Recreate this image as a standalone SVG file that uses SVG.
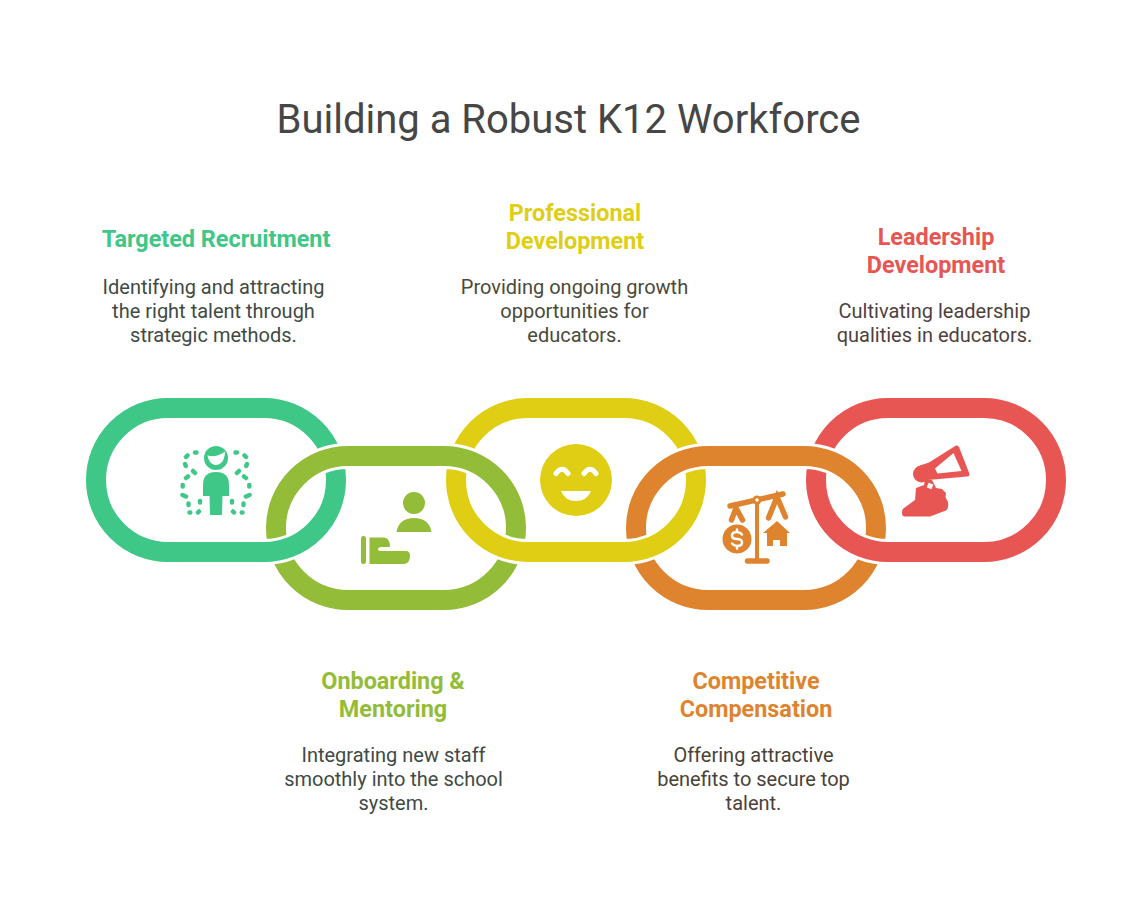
<svg xmlns="http://www.w3.org/2000/svg" width="1136" height="912" viewBox="0 0 1136 912">
<style>
text{font-family:Roboto,"Liberation Sans",sans-serif;text-anchor:middle}
.title{font-size:40px;fill:#464646}
.h{font-size:23.4px;font-weight:700}
.b{font-size:20px}
.halo{fill:none;stroke:#fff;stroke-width:26}
.ring{fill:none;stroke-width:20}
.teal{color:#3EC787;fill:#3EC787}
.olive{color:#93BC38;fill:#93BC38}
.yellow{color:#E0CE14;fill:#E0CE14}
.orange{color:#DF842E;fill:#DF842E}
.red{color:#E85654;fill:#E85654}
.c{stroke:currentColor;fill:none;stroke-linecap:round}
.w{stroke:#fff;fill:none;stroke-linecap:round}
</style>
<defs>
<rect id="up" x="0" y="0" width="240" height="144" rx="72"/>
<clipPath id="lowerHalf"><rect x="0" y="505" width="1136" height="120"/></clipPath>
</defs>
<rect width="1136" height="912" fill="#fff"/>
<text class="title" x="568.500" y="133">Building a Robust K12 Workforce</text>
<g id="connectors">
<g id="upper-rings">
<use href="#up" x="96" y="408" class="halo"/><use href="#up" x="96" y="408" class="ring" style="stroke:#3EC787"/>
<use href="#up" x="456" y="408" class="halo"/><use href="#up" x="456" y="408" class="ring" style="stroke:#E0CE14"/>
<use href="#up" x="816" y="408" class="halo"/><use href="#up" x="816" y="408" class="ring" style="stroke:#E85654"/>
</g>
<g id="lower-rings">
<use href="#up" x="276" y="456" class="halo"/><use href="#up" x="276" y="456" class="ring" style="stroke:#93BC38"/>
<use href="#up" x="636" y="456" class="halo"/><use href="#up" x="636" y="456" class="ring" style="stroke:#DF842E"/>
</g>
<g id="upper-rings-front" clip-path="url(#lowerHalf)">
<use href="#up" x="96" y="408" class="halo"/><use href="#up" x="96" y="408" class="ring" style="stroke:#3EC787"/>
<use href="#up" x="456" y="408" class="halo"/><use href="#up" x="456" y="408" class="ring" style="stroke:#E0CE14"/>
<use href="#up" x="816" y="408" class="halo"/><use href="#up" x="816" y="408" class="ring" style="stroke:#E85654"/>
</g>
</g>
<g id="node-recruitment" class="teal">
<text class="h" x="216" y="247">Targeted Recruitment</text>
<text class="b" x="213.500" y="294" style="fill:#3F4A45">Identifying and attracting</text>
<text class="b" x="213.500" y="318" style="fill:#3F4A45">the right talent through</text>
<text class="b" x="213.500" y="342" style="fill:#3F4A45">strategic methods.</text>
<circle cx="216" cy="458" r="12"/>
<path d="M207.500 455.500Q216 458 225 451.500Q224.500 465 215 465Q209 464 207.500 455.500Z" style="fill:#fff"/>
<path d="M203 485Q203 472 216 472Q229 472 229 485V496H222.500L222 515H210L209.500 496H203Z"/>
<path class="c" stroke-width="4.500" d="M195 452.500l1.500 0M187.500 455.500l-1.500 1.500M185 464l.8 2M193 471l2 2M188 476.500l-2 1.500M182.700 485v1.500M182.500 495l3.500 1.500M188.500 503.500v1.500M200 501v1.500M189.500 512.500h.8M198 512.500l1-1M237 452.500l-1.500 0M244.500 455.500l1.500 1.500M247 464l-.8 2M239 471l-2 2M244 476.500l2 1.500M249.300 485v1.500M249.500 495l-3.500 1.500M243.500 503.500v1.500M232 501v1.500M242.500 512.500h-.8M234 512.500l-1-1"/>
</g>
<g id="node-onboarding" class="olive">
<text class="h" x="393" y="689">Onboarding &amp;</text>
<text class="h" x="393" y="717">Mentoring</text>
<text class="b" x="393.500" y="762" style="fill:#3F4A45">Integrating new staff</text>
<text class="b" x="393.500" y="786" style="fill:#3F4A45">smoothly into the school</text>
<text class="b" x="393.500" y="810" style="fill:#3F4A45">system.</text>
<circle cx="414" cy="503" r="11"/>
<path d="M396.500 532Q399 518 414 518Q429 518 431.500 532Z"/>
<rect x="361" y="536" width="5" height="28" rx="2.500"/>
<path d="M369.500 537.500H384Q390 538 390 547H381Q378 547.500 378 549Q378 551 381 551H406Q410 551 410 556Q410 563 404 564H369.500Z"/>
</g>
<g id="node-development" class="yellow">
<text class="h" x="575" y="221">Professional</text>
<text class="h" x="575" y="249">Development</text>
<text class="b" x="574.500" y="294" style="fill:#4A4A3A">Providing ongoing growth</text>
<text class="b" x="574.500" y="318" style="fill:#4A4A3A">opportunities for</text>
<text class="b" x="574.500" y="342" style="fill:#4A4A3A">educators.</text>
<circle cx="576" cy="480" r="36"/>
<path class="w" stroke-width="5" d="M556 473.500Q562 465 568 473.500M584 473.500Q590 465 596 473.500"/>
<path d="M561 491H591Q587 501 576 501Q565 501 561 491Z" style="fill:#fff"/>
</g>
<g id="node-compensation" class="orange">
<text class="h" x="756" y="689">Competitive</text>
<text class="h" x="756" y="717">Compensation</text>
<text class="b" x="753.500" y="762" style="fill:#4A4238">Offering attractive</text>
<text class="b" x="753.500" y="786" style="fill:#4A4238">benefits to secure top</text>
<text class="b" x="753.500" y="810" style="fill:#4A4238">talent.</text>
<path class="c" stroke-width="5.500" d="M730 506L783 494M747.500 561H767"/>
<path class="c" stroke-width="4" d="M757 500V560"/>
<path class="c" stroke-width="5.500" d="M731.500 520L736 508L742.500 520M768.500 518L777 497L785.500 517"/>
<circle cx="757" cy="500" r="4.500"/><circle cx="757" cy="500" r="1.700" style="fill:#fff"/>
<circle cx="737" cy="539" r="14.500"/>
<path class="w" stroke-width="2.500" d="M742 534.500Q740 532 737 532Q732 532 732 535.500Q732 539 737 539Q742 539 742 542.500Q742 546 737 546Q734 546 732 543.500M737 529.500V532M737 546V548.500"/>
<path d="M777 521L790 533H787V546H780V540H773V546H767V533H763Z"/>
</g>
<g id="node-leadership" class="red">
<text class="h" x="936" y="245">Leadership</text>
<text class="h" x="936" y="273">Development</text>
<text class="b" x="934.500" y="318" style="fill:#4F3F3F">Cultivating leadership</text>
<text class="b" x="934.500" y="342" style="fill:#4F3F3F">qualities in educators.</text>
<circle cx="921.500" cy="474" r="8.500"/>
<path fill-rule="evenodd" d="M920 465.500L929 462.500L956 445.500Q958 445 959 447L969.500 474Q969.500 476.500 967 476.500L928 480L922 482ZM935 468.500L937.500 473.500L961.500 471L953.500 453Z"/>
<path d="M925 480H932L936 488L942 489L946 493L945.500 497L948 502Q949 508 946 510.500L930 516.500H905Q902 516.500 902 513Q902 509 904 508L915 500L916 488L924 485Z"/>
<rect x="-2.500" y="-2.500" width="5" height="5" transform="translate(930 486) rotate(20)" style="fill:#fff"/>
</g>
</svg>
